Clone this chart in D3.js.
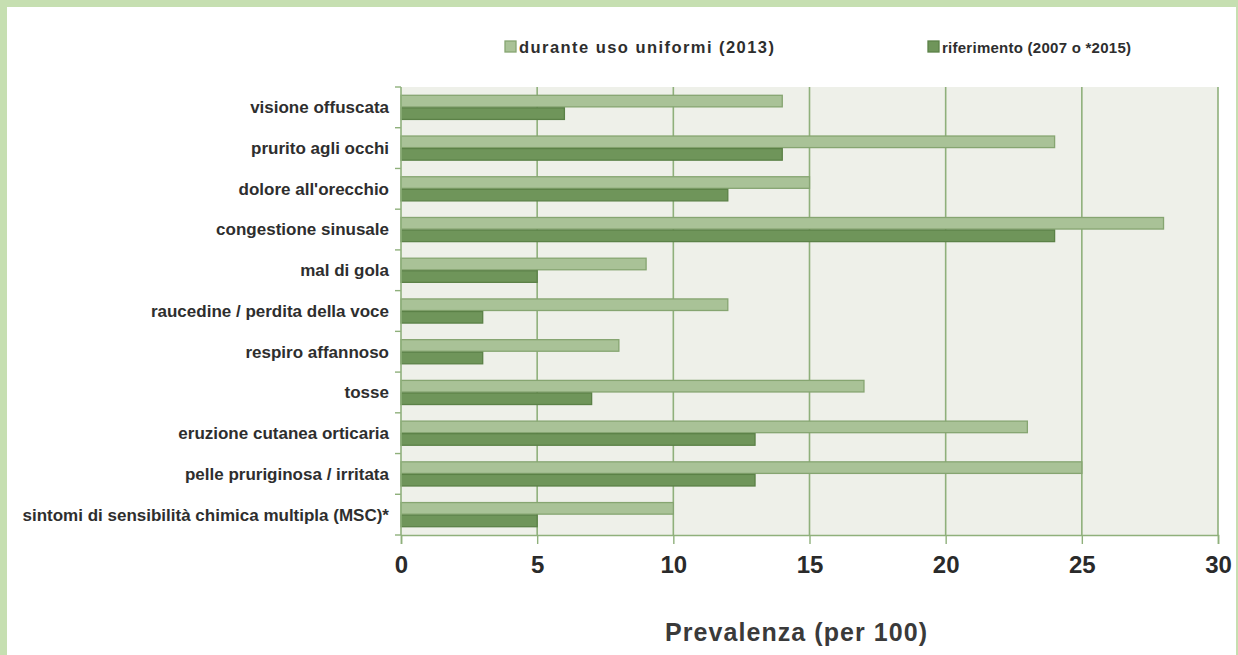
<!DOCTYPE html>
<html>
<head>
<meta charset="utf-8">
<script src="https://cdn.jsdelivr.net/npm/d3@7"></script>
<style>
  html, body { margin: 0; padding: 0; background: #ffffff; }
  svg { display: block; }
</style>
</head>
<body>
<svg id="chart" width="1238" height="655"></svg>
<script>
const categories = [
  "visione offuscata",
  "prurito agli occhi",
  "dolore all'orecchio",
  "congestione sinusale",
  "mal di gola",
  "raucedine / perdita della voce",
  "respiro affannoso",
  "tosse",
  "eruzione cutanea orticaria",
  "pelle pruriginosa / irritata",
  "sintomi di sensibilità chimica multipla (MSC)*"
];
const seriesNames = ["durante uso uniformi (2013)", "riferimento (2007 o *2015)"];
const duranteValues = [14, 24, 15, 28, 9, 12, 8, 17, 23, 25, 10];
const riferimentoValues = [6, 14, 12, 24, 5, 3, 3, 7, 13, 13, 5];
const xTicks = [0, 5, 10, 15, 20, 25, 30];
const axisTitle = "Prevalenza (per 100)";

const svg = d3.select("#chart");
const W = 1238, H = 655;
const FONT = "'Liberation Sans', Arial, sans-serif";

// frame
svg.append("rect").attr("x", 0).attr("y", 0).attr("width", W).attr("height", H).attr("fill", "#c6dfb1");
svg.append("rect").attr("x", 7).attr("y", 7).attr("width", W - 9).attr("height", H - 7).attr("fill", "#ffffff");

const plot = { left: 401, right: 1218, top: 87, bottom: 535 };

const x = d3.scaleLinear().domain([0, 30]).range([plot.left, plot.right]);
const y = d3.scaleBand().domain(categories).range([plot.top, plot.bottom]).paddingInner(0).paddingOuter(0);
const y1 = d3.scaleBand().domain(seriesNames).range([0, y.bandwidth()]).paddingInner(0).paddingOuter(0.62);

const fills = ["#a9c297", "#6f955a"];
const strokes = ["#86a571", "#5b8147"];
const gridColor = "#8fb07b";

// plot background
svg.append("rect")
  .attr("x", plot.left).attr("y", plot.top)
  .attr("width", plot.right - plot.left).attr("height", plot.bottom - plot.top)
  .attr("fill", "#eef0e9");

// gridlines
svg.append("g").selectAll("line").data(xTicks.slice(1)).join("line")
  .attr("x1", d => x(d)).attr("x2", d => x(d))
  .attr("y1", plot.top).attr("y2", plot.bottom)
  .attr("stroke", gridColor).attr("stroke-width", 1.6);

// bars
const data = categories.map((c, i) => ({ cat: c, vals: [duranteValues[i], riferimentoValues[i]] }));
const groups = svg.append("g").selectAll("g").data(data).join("g")
  .attr("transform", d => `translate(0,${y(d.cat)})`);
groups.selectAll("rect").data(d => d.vals.map((v, k) => ({ v, k }))).join("rect")
  .attr("x", x(0))
  .attr("y", d => y1(seriesNames[d.k]) + 0.5)
  .attr("width", d => x(d.v) - x(0))
  .attr("height", y1.bandwidth() - 1)
  .attr("fill", d => fills[d.k])
  .attr("stroke", d => strokes[d.k])
  .attr("stroke-width", 1.3);

// y axis
const yAxisG = svg.append("g").attr("transform", `translate(${plot.left},0)`);
yAxisG.append("line").attr("x1", 0).attr("x2", 0).attr("y1", plot.top).attr("y2", plot.bottom)
  .attr("stroke", gridColor).attr("stroke-width", 1.6);
const bounds = categories.map(c => y(c)).concat([plot.bottom]);
yAxisG.selectAll("line.tk").data(bounds).join("line").attr("class", "tk")
  .attr("x1", -6).attr("x2", 0).attr("y1", d => d).attr("y2", d => d)
  .attr("stroke", gridColor).attr("stroke-width", 1.4);
yAxisG.selectAll("text").data(categories).join("text")
  .attr("x", -12)
  .attr("y", d => y(d) + y.bandwidth() / 2)
  .attr("dy", "0.35em")
  .attr("text-anchor", "end")
  .attr("font-family", FONT)
  .attr("font-weight", "bold")
  .attr("font-size", 17)
  .attr("fill", "#2e2e2e")
  .text(d => d);

// x axis
const xAxisG = svg.append("g").attr("transform", `translate(0,${plot.bottom})`)
  .call(d3.axisBottom(x).tickValues(xTicks).tickSize(9).tickPadding(12).tickFormat(d3.format("d")));
xAxisG.select(".domain").attr("stroke", gridColor).attr("stroke-width", 1.6);
xAxisG.selectAll(".tick line").attr("stroke", gridColor).attr("stroke-width", 1.4);
xAxisG.selectAll(".tick text")
  .attr("font-family", FONT)
  .attr("font-weight", "bold")
  .attr("font-size", 24)
  .attr("fill", "#2a2a2a");

svg.append("text")
  .attr("x", 796).attr("y", 641)
  .attr("text-anchor", "middle")
  .attr("font-family", FONT)
  .attr("font-weight", "bold").attr("font-size", 25)
  .attr("fill", "#3a3a3a")
  .attr("textLength", 262)
  .attr("lengthAdjust", "spacing")
  .text(axisTitle);

// legend
const legendX = [505, 928];
const legendTextW = [255, 189];
const legendFont = [16.5, 15];
const leg = svg.append("g").selectAll("g").data(seriesNames).join("g")
  .attr("transform", (d, i) => `translate(${legendX[i]},41)`);
leg.append("rect").attr("x", 0).attr("y", 0).attr("width", 11).attr("height", 11)
  .attr("fill", (d, i) => fills[i]).attr("stroke", (d, i) => strokes[i]).attr("stroke-width", 1.3);
leg.append("text").attr("x", 14).attr("y", 12)
  .attr("font-family", FONT)
  .attr("font-weight", "bold").attr("font-size", (d, i) => legendFont[i])
  .attr("fill", "#2e2e2e")
  .attr("textLength", (d, i) => legendTextW[i])
  .attr("lengthAdjust", "spacing")
  .text(d => d);
</script>
</body>
</html>
